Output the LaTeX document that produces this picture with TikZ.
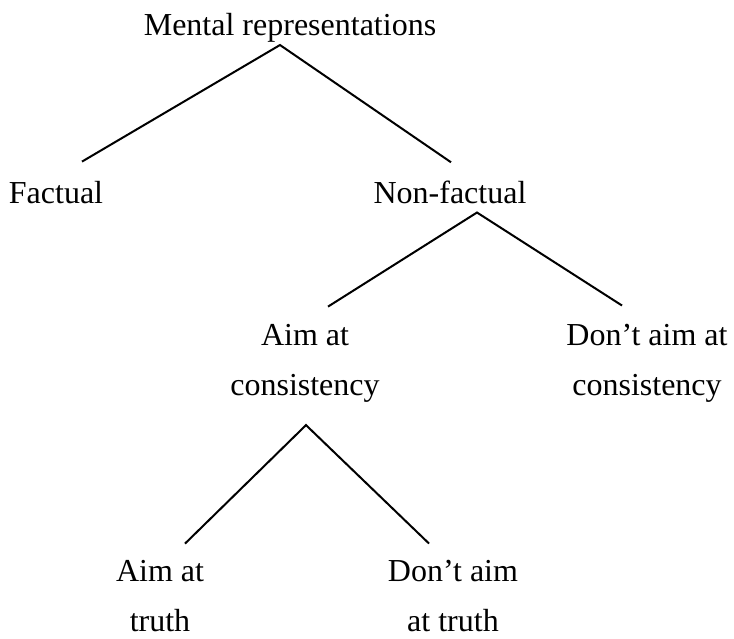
\documentclass[tikz,border=0pt]{standalone}
\usepackage{fontspec}
\setmainfont{Liberation Serif}
\begin{document}
\begin{tikzpicture}[x=1pt,y=-1pt]
	\tikzstyle{every node}+=[inner sep=0pt,anchor=base,align=center,font=\fontsize{32}{50}\selectfont]
	\tikzstyle{branch}=[black,line width=2pt]
	\useasboundingbox (0,0) rectangle (734,638);
	\node (mental) at (290,35) {Mental representations};
	\node (factual) at (56,203) {Factual};
	\node (nonfact) at (450,203) {Non-factual};
	\node (aimcons) at (305,395) {Aim at\\consistency};
	\node (dontcons) at (647,395) {Don’t aim at\\consistency};
	\node (aimtruth) at (160,631) {Aim at\\truth};
	\node (donttruth) at (453,631) {Don’t aim\\at truth};
	\draw [branch] ([xshift=26pt,yshift=19pt]factual.north) -- ([xshift=-10pt,yshift=-3pt]mental.south) -- ([xshift=1pt,yshift=18pt]nonfact.north);
	\draw [branch] ([xshift=23pt,yshift=17pt]aimcons.north) -- ([xshift=27pt,yshift=-9pt]nonfact.south) -- ([xshift=-25pt,yshift=18pt]dontcons.north);
	\draw [branch] ([xshift=25pt,yshift=16pt]aimtruth.north) -- ([xshift=1pt,yshift=-23pt]aimcons.south) -- ([xshift=-24pt,yshift=16pt]donttruth.north);
\end{tikzpicture}
\end{document}
